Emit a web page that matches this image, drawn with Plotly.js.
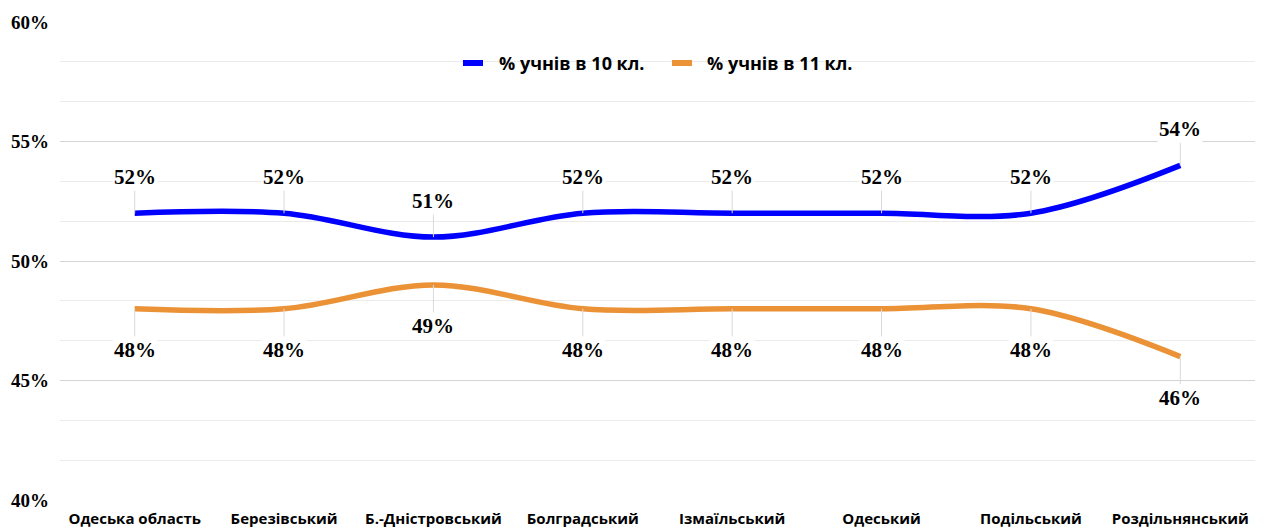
<!DOCTYPE html>
<html>
<head>
<meta charset="utf-8">
<script src="https://cdn.plot.ly/plotly-3.0.1.min.js"></script>
<style>html,body{margin:0;padding:0;background:#fff;}#chart{width:1269px;height:530px;}</style>
</head>
<body>
<div id="chart"></div>
<script>
const categories = ["Одеська область","Березівський","Б.-Дністровський","Болградський","Ізмаїльський","Одеський","Подільський","Роздільнянський"];
const grade10 = [52, 52, 51, 52, 52, 52, 52, 54];
const grade11 = [48, 48, 49, 48, 48, 48, 48, 46];
const seriesNames = ["% учнів в 10 кл.", "% учнів в 11 кл."];
const yTicks = [40, 45, 50, 55, 60];

const colors = ["#0000ff", "#eb9236"];
const serif = "Liberation Serif";
const sans = "Open Sans";

const traces = [grade10, grade11].map((vals, i) => ({
  x: categories, y: vals, name: seriesNames[i], type: "scatter", mode: "lines",
  showlegend: false,
  line: {color: colors[i], width: 5.5, shape: "spline", smoothing: 1}
}));

const annotations = [];
grade10.forEach((v, i) => annotations.push({
  x: categories[i], y: v, xref: "x", yref: "y", text: "<b>" + v + "%</b>",
  showarrow: true, arrowhead: 0, arrowwidth: 1, arrowcolor: "#d9d9d9",
  bgcolor: "#fff", borderpad: 1,
  ax: 0, ay: -36, font: {family: serif, size: 21, color: "#000"}
}));
grade11.forEach((v, i) => annotations.push({
  x: categories[i], y: v, xref: "x", yref: "y", text: "<b>" + v + "%</b>",
  showarrow: true, arrowhead: 0, arrowwidth: 1, arrowcolor: "#d9d9d9",
  bgcolor: "#fff", borderpad: 1,
  ax: 0, ay: 41, font: {family: serif, size: 21, color: "#000"}
}));

// manual legend (positions in paper coords)
const legY = 0.9142;
const legBars = [[0.3372, 0.3540], [0.5121, 0.5289]];
const legText = [0.3657, 0.5397];
const shapes = [
  {type: "rect", xref: "paper", yref: "paper", x0: 0.322, x1: 0.672, y0: legY - 0.025, y1: legY + 0.025,
   fillcolor: "#fff", line: {width: 0}, layer: "between"}
];
seriesNames.forEach((n, i) => {
  shapes.push({type: "rect", xref: "paper", yref: "paper", x0: legBars[i][0], x1: legBars[i][1],
    y0: legY - 0.0063, y1: legY + 0.0063, fillcolor: colors[i], line: {width: 0}, layer: "above"});
  annotations.push({xref: "paper", yref: "paper", x: legText[i], y: legY, xanchor: "left", yanchor: "middle",
    showarrow: false, text: "<b>" + n + "</b>", font: {family: sans, size: 18, color: "#000"}});
});

const layout = {
  width: 1269, height: 530,
  margin: {l: 60, r: 14, t: 22, b: 30},
  paper_bgcolor: "#fff", plot_bgcolor: "#fff",
  showlegend: false,
  font: {family: serif},
  xaxis: {type: "category", range: [-0.5, 7.5], showgrid: false, zeroline: false,
    showline: false, ticks: "", ticklen: 0, ticklabelstandoff: 8,
    tickvals: categories, ticktext: categories.map(c => "<b>" + c + "</b>"),
    tickfont: {family: sans, size: 15, color: "#000"}},
  yaxis: {range: [40, 60], tickvals: yTicks, ticktext: yTicks.map(v => "<b>" + v + "%</b>"),
    showgrid: true, gridcolor: "#d4d4d4", gridwidth: 1, zeroline: false,
    minor: {dtick: 5/3, tick0: 40, showgrid: true, gridcolor: "#ebebeb", gridwidth: 1},
    ticklabelstandoff: 10,
    tickfont: {family: serif, size: 19, color: "#000"}},
  shapes: shapes,
  annotations: annotations
};
Plotly.newPlot("chart", traces, layout, {displayModeBar: false, staticPlot: true});
</script>
</body>
</html>
